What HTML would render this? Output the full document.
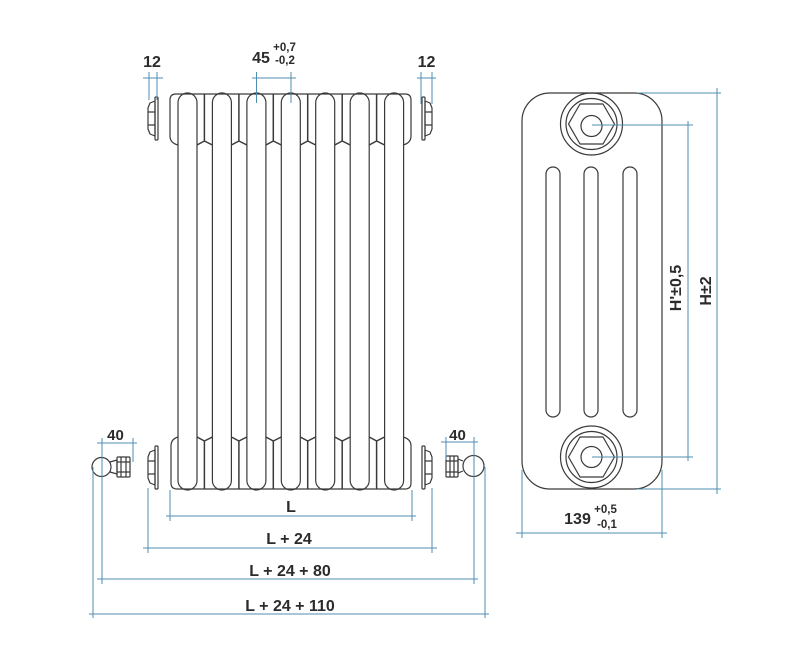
<!DOCTYPE html>
<html><head><meta charset="utf-8"><style>
html,body{margin:0;padding:0;background:#fff;}
svg{display:block;}
text{font-family:"Liberation Sans",sans-serif;font-weight:bold;fill:#2b2b2b;}
</style></head><body>
<svg width="791" height="665" viewBox="0 0 791 665" xmlns="http://www.w3.org/2000/svg">
<g fill="none" stroke="#3a3a3a" stroke-width="1.2" stroke-linejoin="round">
<!-- tubes -->
<rect x="178" y="93" width="19" height="397" rx="9.5"/>
<rect x="212.4" y="93" width="19" height="397" rx="9.5"/>
<rect x="246.9" y="93" width="19" height="397" rx="9.5"/>
<rect x="281.3" y="93" width="19" height="397" rx="9.5"/>
<rect x="315.7" y="93" width="19" height="397" rx="9.5"/>
<rect x="350.2" y="93" width="19" height="397" rx="9.5"/>
<rect x="384.6" y="93" width="19" height="397" rx="9.5"/>
<!-- top header outline -->
<path d="M178,145 Q170,143 170,136 L170,100 Q170,94 176,94 L405,94 Q411,94 411,100 L411,136 Q411,143 403,145"/>
<!-- bottom header outline -->
<path d="M178,437 Q171,439 171,446 L171,483 Q171,489 177,489 L405,489 Q411,489 411,483 L411,446 Q411,439 403,437"/>
<!-- top section junctions -->
<g stroke-width="1.5">
<path d="M204.4,94 L204.4,141 M197,145 L204.4,141 L212.4,145"/>
<path d="M238.9,94 L238.9,141 M231.4,145 L238.9,141 L246.9,145"/>
<path d="M273.3,94 L273.3,141 M265.9,145 L273.3,141 L281.3,145"/>
<path d="M307.7,94 L307.7,141 M300.3,145 L307.7,141 L315.7,145"/>
<path d="M342.2,94 L342.2,141 M334.7,145 L342.2,141 L350.2,145"/>
<path d="M376.6,94 L376.6,141 M369.2,145 L376.6,141 L384.6,145"/>
<!-- bottom junctions -->
<path d="M204.4,489 L204.4,441 M197,437 L204.4,441 L212.4,437"/>
<path d="M238.9,489 L238.9,441 M231.4,437 L238.9,441 L246.9,437"/>
<path d="M273.3,489 L273.3,441 M265.9,437 L273.3,441 L281.3,437"/>
<path d="M307.7,489 L307.7,441 M300.3,437 L307.7,441 L315.7,437"/>
<path d="M342.2,489 L342.2,441 M334.7,437 L342.2,441 L350.2,437"/>
<path d="M376.6,489 L376.6,441 M369.2,437 L376.6,441 L384.6,437"/>
</g>
<!-- nuts top -->
<rect x="155" y="97" width="3" height="43" rx="1"/>
<path d="M155,101 L150,103 L148,108 L148,129 L150,134 L155,136 Z M148,112 L155,112 M148,125 L155,125"/>
<rect x="422" y="97" width="3" height="43" rx="1"/>
<path d="M425,101 L430,103 L432,108 L432,129 L430,134 L425,136 Z M425,112 L432,112 M425,125 L432,125"/>
<!-- nuts bottom -->
<rect x="155" y="446" width="3" height="43" rx="1"/>
<path d="M155,450 L150,452 L148,457 L148,478 L150,483 L155,485 Z M148,461 L155,461 M148,474 L155,474"/>
<rect x="422" y="446" width="3" height="43" rx="1"/>
<path d="M425,450 L430,452 L432,457 L432,478 L430,483 L425,485 Z M425,461 L432,461 M425,474 L432,474"/>
<!-- left valve -->
<circle cx="101.5" cy="467" r="9.5"/>
<path d="M110,462 L117,460 L117,474 L110,472"/>
<rect x="117" y="457" width="13" height="20" rx="1"/>
<path d="M121,457 L121,477 M126,457 L126,477 M117,462 L130,462 M117,472 L130,472"/>
<!-- right valve -->
<circle cx="473.5" cy="466" r="10.5"/>
<path d="M463,461 L458,459 L458,473 L463,471"/>
<rect x="446" y="456" width="12" height="21" rx="1"/>
<path d="M450,456 L450,477 M454,456 L454,477 M446,461 L458,461 M446,472 L458,472"/>
<!-- right view -->
<rect x="522" y="93" width="140" height="396" rx="28"/>
<rect x="546" y="167" width="14" height="250" rx="7"/>
<rect x="584" y="167" width="14" height="250" rx="7"/>
<rect x="623" y="167" width="14" height="250" rx="7"/>
<circle cx="591.5" cy="124" r="31"/>
<circle cx="591.5" cy="124" r="25.5"/>
<polygon points="568.5,124 580,104 603,104 614.5,124 603,144 580,144"/>
<circle cx="591.5" cy="126" r="10.5"/>
<circle cx="591.5" cy="457" r="31"/>
<circle cx="591.5" cy="457" r="25.5"/>
<polygon points="568.5,457 580,437 603,437 614.5,457 603,477 580,477"/>
<circle cx="591.5" cy="457" r="10.5"/>
</g>
<!-- dimension lines -->
<g fill="none" stroke="#4f8fb3" stroke-width="1">
<path d="M149,72 L149,100 M157,72 L157,100 M143,78 L163,78"/>
<path d="M256.5,72 L256.5,103 M291,72 L291,103 M252,78 L296,78"/>
<path d="M421,72 L421,104 M432,72 L432,104 M417,78 L436,78"/>
<path d="M102,438 L102,584 M133,438 L133,462 M97,443 L137,443"/>
<path d="M446,437 L446,460 M474,437 L474,584 M441,442 L478,442"/>
<path d="M170,490 L170,521 M412,490 L412,521 M166,516 L416,516"/>
<path d="M148,488 L148,553 M432,488 L432,553 M143,548 L437,548"/>
<path d="M97,579 L478,579"/>
<path d="M93,467 L93,618 M485,467 L485,618 M89,614 L489,614"/>
<path d="M592,125 L693,125 M688,121 L688,461 M592,457 L693,457"/>
<path d="M637,93 L721,93 M717,88 L717,494 M637,489 L721,489"/>
<path d="M522,470 L522,538 M662,470 L662,538 M516,533 L667,533"/>
</g>
<!-- labels -->
<g font-size="16">
<text x="152" y="67" text-anchor="middle">12</text>
<text x="426.5" y="67" text-anchor="middle">12</text>
<text x="261" y="63" text-anchor="middle">45</text>
<text x="115.5" y="440" text-anchor="middle" font-size="15">40</text>
<text x="457.5" y="440" text-anchor="middle" font-size="15">40</text>
<text x="291" y="512" text-anchor="middle">L</text>
<text x="289" y="544" text-anchor="middle">L + 24</text>
<text x="290" y="576" text-anchor="middle">L + 24 + 80</text>
<text x="290" y="611" text-anchor="middle">L + 24 + 110</text>
<text x="577.5" y="524" text-anchor="middle">139</text>
<text transform="translate(681,288) rotate(-90)" text-anchor="middle">H'±0,5</text>
<text transform="translate(711,291) rotate(-90)" text-anchor="middle">H±2</text>
</g>
<g font-size="11.5">
<text x="284.5" y="51" text-anchor="middle">+0,7</text>
<text x="285" y="64" text-anchor="middle">-0,2</text>
<text x="605.5" y="513" text-anchor="middle">+0,5</text>
<text x="607" y="528" text-anchor="middle">-0,1</text>
</g>
</svg>
</body></html>
